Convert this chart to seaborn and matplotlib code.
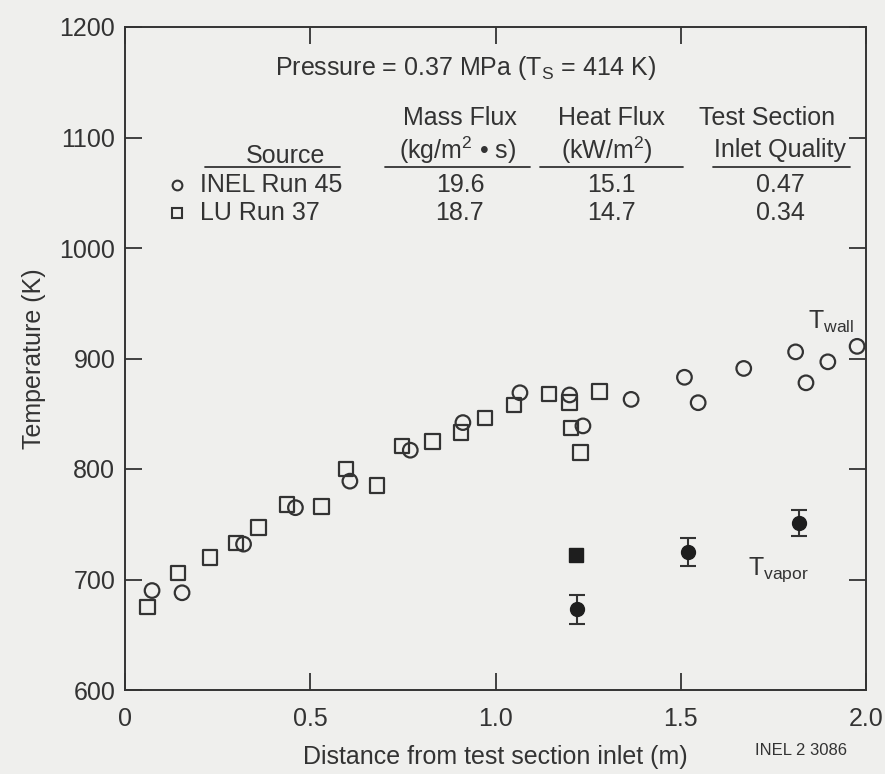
import matplotlib
matplotlib.use("Agg")
import matplotlib.pyplot as plt
from matplotlib import font_manager
import seaborn as sns
import pandas as pd
import numpy as np

# ---- data ----
inel_x = [0.073, 0.154, 0.32, 0.46, 0.607, 0.77, 0.912, 1.066, 1.20, 1.236,
          1.366, 1.51, 1.547, 1.67, 1.81, 1.838, 1.897, 1.976]
inel_t = [690, 688, 732, 765, 789, 817, 842, 869, 867, 839,
          863, 883, 860, 891, 906, 878, 897, 911]
lu_x = [0.06, 0.143, 0.23, 0.30, 0.36, 0.437, 0.53, 0.596, 0.68, 0.748,
        0.83, 0.907, 0.972, 1.05, 1.144, 1.20, 1.204, 1.23, 1.28]
lu_t = [675, 706, 720, 733, 747, 768, 766, 800, 785, 821,
        825, 833, 846, 858, 868, 860, 837, 815, 870]
vap_x = [1.22, 1.52, 1.82]
vap_t = [673, 725, 751]
vap_err = [13, 13, 12]
vap_sq_x = [1.217]
vap_sq_t = [722]
x_ticks = [0, 0.5, 1.0, 1.5, 2.0]
x_ticklabels = ["0", "0.5", "1.0", "1.5", "2.0"]
y_ticks = [600, 700, 800, 900, 1000, 1100, 1200]

sources = ["INEL Run 45", "LU Run 37"]
mass_flux = ["19.6", "18.7"]
heat_flux = ["15.1", "14.7"]
inlet_quality = ["0.47", "0.34"]

# ---- style ----
sns.set_theme(style="ticks")
avail = {f.name for f in font_manager.fontManager.ttflist}
fam = "Liberation Sans Narrow" if "Liberation Sans Narrow" in avail else "Liberation Sans"
plt.rcParams["font.family"] = [fam, "DejaVu Sans"]
plt.rcParams["mathtext.fontset"] = "custom"
plt.rcParams["mathtext.rm"] = fam
plt.rcParams["mathtext.it"] = fam
ink = "#333333"
bg = "#efefed"

fig = plt.figure(figsize=(8.85, 7.74), dpi=100, facecolor=bg)
ax = fig.add_axes([125/885, 1-690/774, 741/885, 663/774])
ax.set_facecolor(bg)

df = pd.DataFrame({
    "x": inel_x + lu_x,
    "T": inel_t + lu_t,
    "src": ["INEL"] * len(inel_x) + ["LU"] * len(lu_x),
})
sns.scatterplot(data=df, x="x", y="T", style="src", markers={"INEL": "o", "LU": "s"},
                ax=ax, s=110, facecolor="none", edgecolor=ink, linewidth=1.6,
                legend=False)
for coll in ax.collections:
    coll.set_facecolor("none")
    coll.set_edgecolor(ink)

ax.errorbar(vap_x, vap_t, yerr=vap_err, fmt="o", color="#1e1e1e", ms=10,
            ecolor=ink, elinewidth=1.5, capsize=6, capthick=1.5)
ax.plot(vap_sq_x, vap_sq_t, "s", color="#1e1e1e", ms=10)

ax.set_xlim(0, 2.0)
ax.set_ylim(600, 1200)
ax.set_xticks(x_ticks)
ax.set_xticklabels(x_ticklabels)
ax.set_yticks(y_ticks)
ax.tick_params(direction="in", length=12, width=1.3, colors=ink, labelsize=18,
               top=True, right=True)
ax.tick_params(axis="x", pad=12)
ax.tick_params(axis="y", pad=7)
for s in ax.spines.values():
    s.set_color(ink)
    s.set_linewidth(1.4)

ax.set_xlabel("Distance from test section inlet (m)", fontsize=18, color=ink, labelpad=10)
ax.set_ylabel("Temperature (K)", fontsize=18, color=ink, labelpad=10)

tk = dict(transform=ax.transAxes, color=ink, fontsize=18, ha="center", va="center")
ax.text(0.46, 0.938, r"Pressure = 0.37 MPa (T$_\mathregular{S}$ = 414 K)", **tk)
ax.text(0.452, 0.863, "Mass Flux", **tk)
ax.text(0.449, 0.814, r"(kg/m$^\mathregular{2}$ • s)", **tk)
ax.text(0.657, 0.863, "Heat Flux", **tk)
ax.text(0.650, 0.814, r"(kW/m$^\mathregular{2}$)", **tk)
ax.text(0.866, 0.863, "Test Section", **tk)
ax.text(0.884, 0.814, "Inlet Quality", **tk)
ax.text(0.217, 0.806, "Source", **tk)
for x0, x1 in [(0.108, 0.290), (0.351, 0.547), (0.560, 0.753), (0.794, 0.978)]:
    ax.plot([x0, x1], [0.789, 0.789], transform=ax.transAxes, color=ink, lw=1.3,
            clip_on=False)

rows_y = [0.762, 0.719]
mk = ["o", "s"]
for i in range(2):
    ax.plot([0.070], [rows_y[i]], mk[i], transform=ax.transAxes, ms=7, mfc="none",
            mec=ink, mew=1.5)
    ax.text(0.101, rows_y[i], sources[i], transform=ax.transAxes, color=ink,
            fontsize=18, ha="left", va="center")
    ax.text(0.452, rows_y[i], mass_flux[i], **tk)
    ax.text(0.657, rows_y[i], heat_flux[i], **tk)
    ax.text(0.884, rows_y[i], inlet_quality[i], **tk)

ax.text(0.922, 0.555, r"T$_\mathregular{wall}$", transform=ax.transAxes, color=ink,
        fontsize=18, ha="left", va="center")
ax.text(0.841, 0.181, r"T$_\mathregular{vapor}$", transform=ax.transAxes, color=ink,
        fontsize=18, ha="left", va="center")

fig.text(0.853, 0.031, "INEL 2 3086", color=ink, fontsize=12, ha="left", va="center")

fig.savefig("out.png", dpi=100, facecolor=bg)
